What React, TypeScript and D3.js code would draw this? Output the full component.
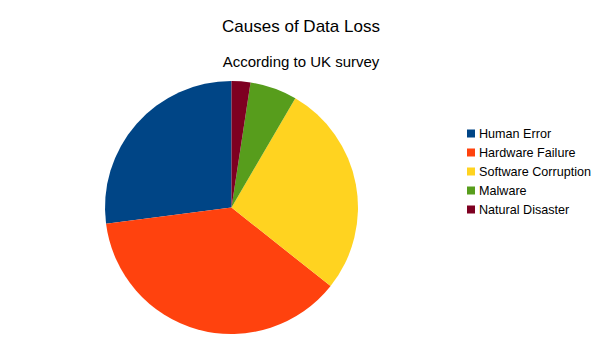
import React from "react";
import * as d3 from "d3";

const categories = ["Human Error", "Hardware Failure", "Software Corruption", "Malware", "Natural Disaster"];
const values = [27, 37.2, 27.2, 6, 2.4];
const colors = ["#004586", "#ff420e", "#ffd320", "#579d1c", "#7e0021"];
const title = "Causes of Data Loss";
const subtitle = "According to UK survey";

export default function App() {
  const width = 604, height = 341;
  const cx = 231.5, cy = 207.5, r = 126.5;
  const pie = d3.pie<number>().sort(null).value((d) => d).startAngle(0).endAngle(-2 * Math.PI);
  const arcs = pie(values);
  const arc = d3.arc<d3.PieArcDatum<number>>().innerRadius(0).outerRadius(r);
  const font = "'Liberation Sans', Arial, sans-serif";
  return (
    <svg width={width} height={height} style={{ position: "absolute", left: 0, top: 0, background: "#fff" }}>
      <rect width={width} height={height} fill="#fff" />
      <text x={301} y={32} textAnchor="middle" fontFamily={font} fontSize={17}>{title}</text>
      <text x={301} y={67} textAnchor="middle" fontFamily={font} fontSize={15}>{subtitle}</text>
      <g transform={`translate(${cx},${cy})`}>
        {arcs.map((a, i) => (
          <path key={i} d={arc(a) || ""} fill={colors[i]} />
        ))}
      </g>
      <g fontFamily={font} fontSize={12.6}>
        {categories.map((c, i) => (
          <g key={c} transform={`translate(467,${129.5 + i * 19})`}>
            <rect x={0} y={0} width={8} height={8} fill={colors[i]} />
            <text x={12} y={8} fill="#000">{c}</text>
          </g>
        ))}
      </g>
    </svg>
  );
}
